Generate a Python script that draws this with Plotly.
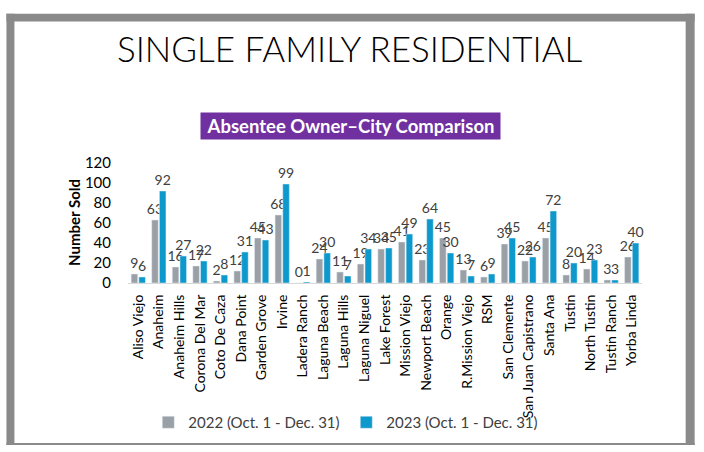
import plotly.graph_objects as go

cities = ["Aliso Viejo", "Anaheim", "Anaheim Hills", "Corona Del Mar", "Coto De Caza",
          "Dana Point", "Garden Grove", "Irvine", "Ladera Ranch", "Laguna Beach",
          "Laguna Hills", "Laguna Niguel", "Lake Forest", "Mission Viejo", "Newport Beach",
          "Orange", "R.Mission Viejo", "RSM", "San Clemente", "San Juan Capistrano",
          "Santa Ana", "Tustin", "North Tustin", "Tustin Ranch", "Yorba Linda"]
sold_2022 = [9, 63, 16, 17, 2, 12, 45, 68, 0, 24, 11, 19, 34, 41, 23, 45, 13, 6, 39, 22, 45, 8, 14, 3, 26]
sold_2023 = [6, 92, 27, 22, 8, 31, 43, 99, 1, 30, 7, 34, 35, 49, 64, 30, 7, 9, 45, 26, 72, 20, 23, 3, 40]
series_names = ["2022 (Oct. 1 - Dec. 31)", "2023 (Oct. 1 - Dec. 31)"]
y_ticks = [0, 20, 40, 60, 80, 100, 120]

W, H = 704, 452
PL, PR, PT, PB = 127.7, 642.3, 163, 286
FONT = "Lato"

def xp(px):
    return (px - PL) / (PR - PL)

def yp(py):
    return (PB - py) / (PB - PT)

fig = go.Figure()
for name, vals, col in [(series_names[0], sold_2022, "#9AA0A6"),
                        (series_names[1], sold_2023, "#0E99CC")]:
    fig.add_trace(go.Bar(
        x=cities, y=vals, name=name, marker_color=col,
        text=vals, textposition="outside", constraintext="none",
        cliponaxis=False,
        textfont=dict(size=14, color="#404040", family=FONT),
    ))

shapes = []
gray = "#8A8A8A"
for (x0, y0, x1, y1) in [(6, 10, 695, 18), (6, 10, 14, 452), (686, 10, 695, 452), (6, 450, 695, 452)]:
    shapes.append(dict(type="rect", xref="paper", yref="paper",
                       x0=xp(x0), x1=xp(x1), y0=yp(y1), y1=yp(y0),
                       fillcolor=gray, line=dict(width=0), layer="below"))

annotations = [
    dict(text="SINGLE FAMILY RESIDENTIAL", xref="paper", yref="paper",
         x=xp(350), y=yp(45), showarrow=False, xanchor="center", yanchor="middle",
         font=dict(size=35, color="#000000", family=FONT, weight=300)),
    dict(text="<b>Absentee Owner\u2013City Comparison</b>", xref="paper", yref="paper",
         x=xp(350.5), y=yp(125), showarrow=False, xanchor="center", yanchor="middle",
         width=299, height=26, bgcolor="#7030A0", borderpad=0,
         font=dict(size=18.5, color="#FFFFFF", family=FONT)),
    dict(text="<b>Number Sold</b>", xref="paper", yref="paper",
         x=xp(73), y=yp(224), showarrow=False, xanchor="center", yanchor="middle",
         textangle=-90, font=dict(size=15, color="#000000", family=FONT)),
]

fig.update_layout(
    width=W, height=H,
    margin=dict(l=PL, r=W - PR, t=PT, b=H - PB, pad=0),
    paper_bgcolor="white", plot_bgcolor="white",
    barmode="group", bargap=0.25, bargroupgap=0.15,
    showlegend=True,
    legend=dict(orientation="h", x=xp(148), y=yp(429), xanchor="left", yanchor="middle",
                font=dict(size=15, color="#404040", family=FONT), traceorder="normal",
                entrywidth=153, entrywidthmode="pixels", itemwidth=30,
                bgcolor="rgba(0,0,0,0)"),
    shapes=shapes, annotations=annotations,
    font=dict(family=FONT),
)
fig.update_xaxes(tickangle=-90, tickfont=dict(size=14, color="#000000", family=FONT),
                 showline=True, linecolor="#D9D9D9", linewidth=1, showgrid=False,
                 ticks="", ticklabelstandoff=5, automargin=False)
fig.update_yaxes(range=[0, 120], tickvals=y_ticks, showgrid=False, zeroline=False,
                 showline=False, tickfont=dict(size=15, color="#000000", family=FONT),
                 ticklabelstandoff=16, automargin=False)

page_js = (
    "document.documentElement.style.margin='0';"
    "document.body.style.margin='0';"
    "document.documentElement.style.overflow='hidden';"
    "document.body.style.overflow='hidden';"
    "var gd=document.getElementById('{plot_id}');"
    "gd.style.position='fixed';gd.style.top='0';gd.style.left='0';"
)
fig.write_html("out.html", config={"displayModeBar": False}, post_script=page_js)
